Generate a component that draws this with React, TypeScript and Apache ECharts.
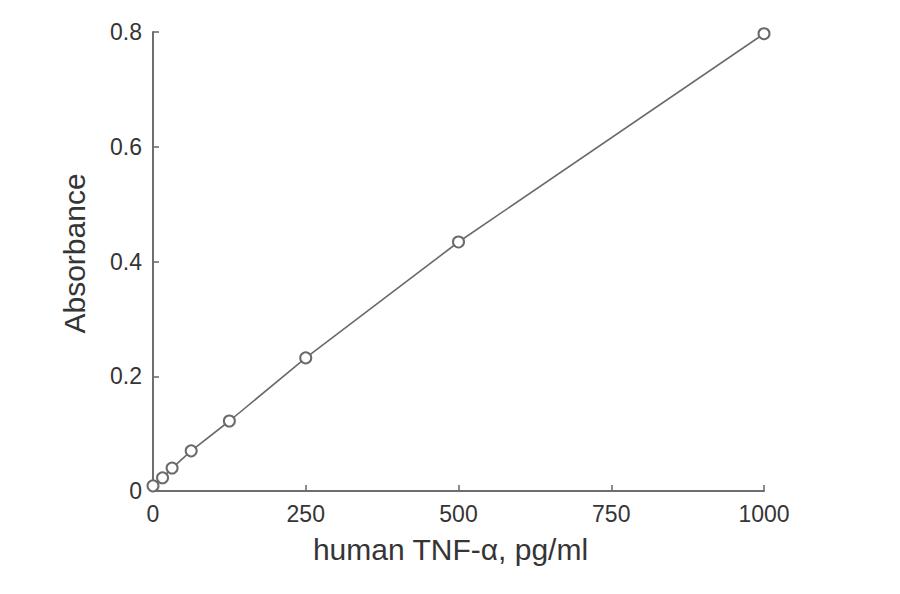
import React, { useEffect, useRef } from 'react'
import * as echarts from 'echarts'
import type { ECharts, EChartsOption } from 'echarts'

// standard curve: concentration (pg/ml) vs absorbance
const concentrations = [0, 15.6, 31.25, 62.5, 125, 250, 500, 1000]
const absorbance = [0.009, 0.023, 0.04, 0.07, 0.122, 0.232, 0.434, 0.797]

const xTitle = 'human TNF-α, pg/ml'
const yTitle = 'Absorbance'

const FONT = '"Liberation Sans", Arial, sans-serif'
const TEXT = '#353535'
const AXIS = '#6e6e6e'

export default function App() {
  const chartRef = useRef<HTMLDivElement | null>(null)
  const chartInstance = useRef<ECharts | null>(null)

  useEffect(() => {
    document.body.style.margin = '0'

    const option: EChartsOption = {
      animation: false,
      backgroundColor: '#ffffff',
      textStyle: { fontFamily: FONT },
      grid: {
        left: 153,
        right: 136,
        top: 32,
        bottom: 103,
        containLabel: false,
      },
      xAxis: {
        type: 'value',
        min: 0,
        max: 1000,
        interval: 250,
        name: xTitle,
        nameLocation: 'middle',
        nameGap: 43,
        // title sits a bit left of the axis centre in the original
        nameTextStyle: { color: TEXT, fontSize: 30, fontFamily: FONT, padding: [0, 16, 0, 0] },
        axisLine: { show: true, lineStyle: { color: AXIS, width: 2 } },
        axisTick: { show: true, inside: true, length: 6, lineStyle: { color: AXIS, width: 1.6 } },
        axisLabel: {
          color: TEXT,
          fontSize: 23,
          margin: 11,
          fontFamily: FONT,
          formatter: (v: number) => String(v),
        },
        splitLine: { show: false },
      },
      yAxis: {
        type: 'value',
        min: 0,
        max: 0.8,
        interval: 0.2,
        name: yTitle,
        nameLocation: 'middle',
        nameGap: 64,
        nameTextStyle: { color: TEXT, fontSize: 30, fontFamily: FONT, padding: [0, 0, 0, 16] },
        axisLine: { show: true, lineStyle: { color: AXIS, width: 2 } },
        axisTick: { show: true, inside: true, length: 6, lineStyle: { color: AXIS, width: 1.6 } },
        axisLabel: { color: TEXT, fontSize: 23, margin: 11, fontFamily: FONT },
        splitLine: { show: false },
      },
      series: [
        {
          type: 'line',
          data: concentrations.map((c, i) => [c, absorbance[i]]),
          symbol: 'emptyCircle',
          symbolSize: 11,
          showAllSymbol: true,
          lineStyle: { color: '#6a6a6a', width: 1.6 },
          itemStyle: { color: '#6a6a6a', borderColor: '#6a6a6a', borderWidth: 1.6 },
        },
      ],
    }

    if (chartRef.current) {
      chartInstance.current = echarts.init(chartRef.current, undefined, { renderer: 'svg' })
      chartInstance.current.setOption(option)
    }

    return () => {
      chartInstance.current?.dispose()
    }
  }, [])

  return <div ref={chartRef} style={{ width: '900px', height: '594px' }} />
}
